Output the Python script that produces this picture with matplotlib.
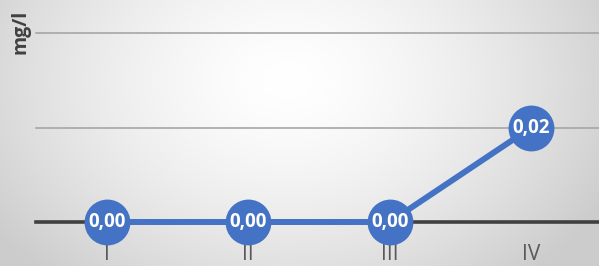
import numpy as np
import matplotlib
matplotlib.use("Agg")
import matplotlib.pyplot as plt

categories = ["I", "II", "III", "IV"]
values = [0.0, 0.0, 0.0, 0.02]
y_ticks = [0.0, 0.02, 0.04]

BLUE = "#4472C4"

fig = plt.figure(figsize=(5.99, 2.66), dpi=100)

# radial gradient background
bg = fig.add_axes([0, 0, 1, 1], zorder=0)
xx, yy = np.meshgrid(np.linspace(0, 1, 300), np.linspace(0, 1, 140))
d = np.sqrt(((xx - 0.48) * 1.0) ** 2 + ((yy - 0.7) * 0.6) ** 2)
shade = 1.0 - 0.2 * np.clip(d / 0.6, 0, 1) ** 1.5
bg.imshow(np.dstack([shade] * 3), extent=[0, 1, 0, 1], origin="lower", aspect="auto")
bg.axis("off")

ax = fig.add_axes([36 / 599, 44 / 266, 566 / 599, 189 / 266], zorder=1)
ax.patch.set_alpha(0)
x = np.arange(len(categories))
ax.set_xlim(-0.5, 3.5)
ax.set_ylim(0, 0.04)

for t in y_ticks[1:]:
    ax.axhline(t, color="#a6a6a6", lw=1.2, zorder=1, clip_on=False)
ax.axhline(0, color="#404040", lw=2.6, zorder=1, clip_on=False)

ax.plot(x, values, color=BLUE, lw=4.3, marker="o", markersize=33,
        markeredgewidth=0, zorder=3, clip_on=False)
for xi, v in zip(x, values):
    ax.text(xi, v, f"{v:.2f}".replace(".", ","), color="white", ha="center",
            va="center", fontsize=13.5, fontweight="bold", family="Open Sans",
            zorder=4)

for s in ax.spines.values():
    s.set_visible(False)
ax.set_yticks([])
ax.set_xticks(x)
ax.set_xticklabels(categories, fontsize=15, color="#595959", family="Open Sans")
ax.tick_params(axis="x", length=0, pad=16)

fig.text(21 / 599, 1 - 32 / 266, "mg/l", rotation=90, ha="center", va="center",
         fontsize=14, fontweight="bold", color="#404040", family="Open Sans")

fig.savefig("out.png", dpi=100)
